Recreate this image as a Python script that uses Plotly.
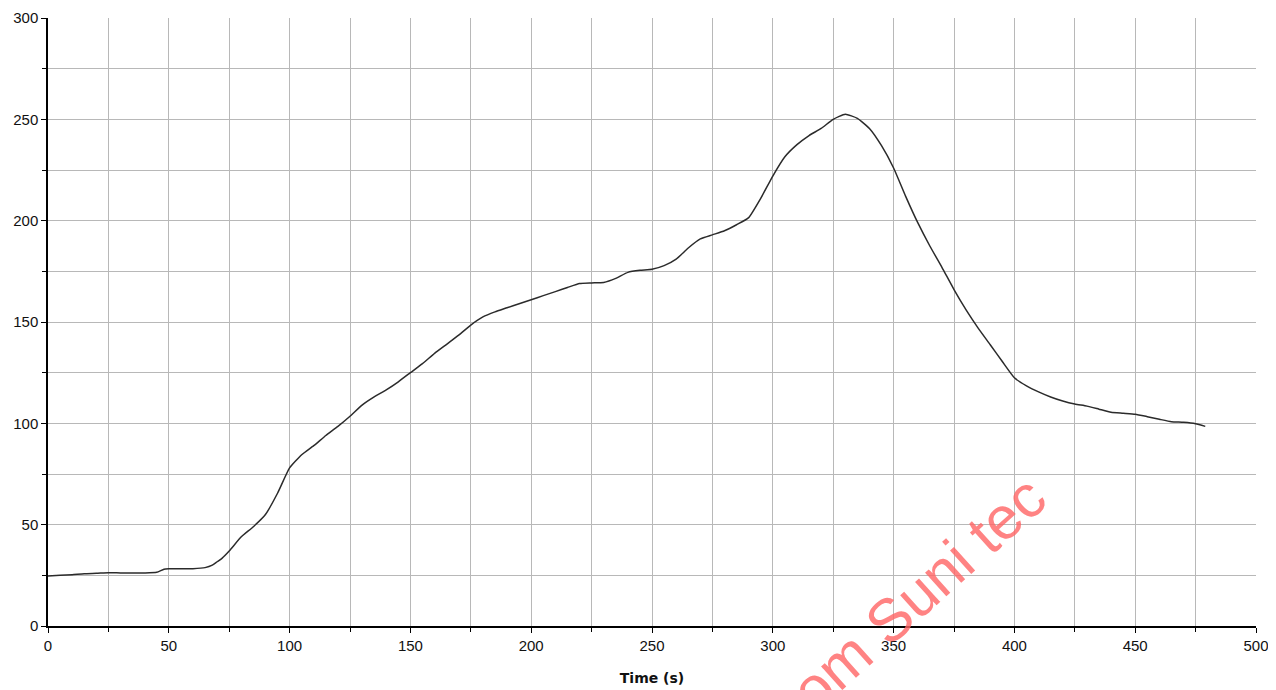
import plotly.graph_objects as go

time_s = [0, 5, 10, 15, 20, 25, 30, 35, 40, 45, 48, 50, 55, 60, 65, 68, 70, 72, 75, 80,
          85, 90, 95, 100, 105, 110, 115, 120, 125, 130, 135, 140, 145, 150, 155, 160,
          165, 170, 175, 180, 185, 190, 195, 200, 205, 210, 215, 220, 225, 230, 235, 240,
          245, 250, 255, 260, 265, 270, 275, 280, 285, 290, 295, 300, 305, 310, 315, 320,
          325, 330, 335, 340, 345, 350, 355, 360, 365, 370, 375, 380, 385, 390, 395, 400,
          405, 410, 415, 420, 425, 430, 435, 440, 445, 450, 455, 460, 465, 470, 475, 479]
values = [24.7, 25, 25.3, 25.8, 26, 26.3, 26.2, 26.2, 26.2, 26.5, 28, 28.2, 28.2, 28.3, 28.8,
          30, 31.7, 33.4, 37, 44, 49, 55, 65.5, 78, 84.5, 89, 94, 98.5, 103.5, 109, 113,
          116.5, 120.5, 125, 129.5, 134.5, 139, 143.5, 148.5, 152.5, 155, 157, 159, 161, 163,
          165, 167, 169, 169.3, 169.5, 171.5, 174.5, 175.5, 176, 177.8, 181, 186.5, 191, 193,
          195, 198, 201.5, 211, 222, 231.5, 237.5, 242, 245.5, 250, 252.5, 250.5, 245.5, 237,
          226, 212, 199, 187.5, 177, 166, 156, 147, 138.8, 130.5, 122.5, 118.5, 115.5, 113,
          111, 109.5, 108.5, 107, 105.5, 105, 104.5, 103.3, 102, 100.8, 100.5, 99.8, 98.5]

x_ticks = [0, 50, 100, 150, 200, 250, 300, 350, 400, 450, 500]
y_ticks = [0, 50, 100, 150, 200, 250, 300]

fig = go.Figure()
fig.add_trace(go.Scatter(x=time_s, y=values, mode="lines",
                         line=dict(color="#2b2b2b", width=1.5, shape="spline", smoothing=0.5),
                         showlegend=False, hoverinfo="x+y"))

axis_common = dict(
    showline=True, linecolor="black", linewidth=1.5,
    ticks="outside", ticklen=5, tickwidth=1, tickcolor="black",
    showgrid=True, gridcolor="#b8b8b8", gridwidth=1,
    zeroline=False, mirror=False, automargin=False,
    tickfont=dict(family="Liberation Sans, Arial, sans-serif", size=15, color="#111111"),
    minor=dict(dtick=25, showgrid=True, gridcolor="#b8b8b8", gridwidth=1,
               ticks="outside", ticklen=4, tickcolor="black"),
)

fig.update_xaxes(range=[0, 500], tickvals=x_ticks, ticktext=[str(v) for v in x_ticks],
                 title=dict(text="<b>Time (s)</b>", standoff=20,
                            font=dict(family="DejaVu Sans, Verdana, sans-serif", size=14, color="#111111")),
                 **axis_common)
fig.update_yaxes(range=[0, 300], tickvals=y_ticks, ticktext=[str(v) for v in y_ticks],
                 **axis_common)

fig.add_annotation(text="om Suni tec", x=360.5, y=16, xref="x", yref="y",
                   showarrow=False, textangle=-42,
                   font=dict(family="Liberation Sans, Arial, sans-serif", size=60,
                             color="rgba(255,100,100,0.8)"))

# the page adds an 8px body margin, so margins are shifted to compensate
fig.update_layout(
    width=1276, height=690,
    margin=dict(l=40, r=28, t=10, b=72),
    plot_bgcolor="white", paper_bgcolor="white",
)

fig.write_html("out.html")
